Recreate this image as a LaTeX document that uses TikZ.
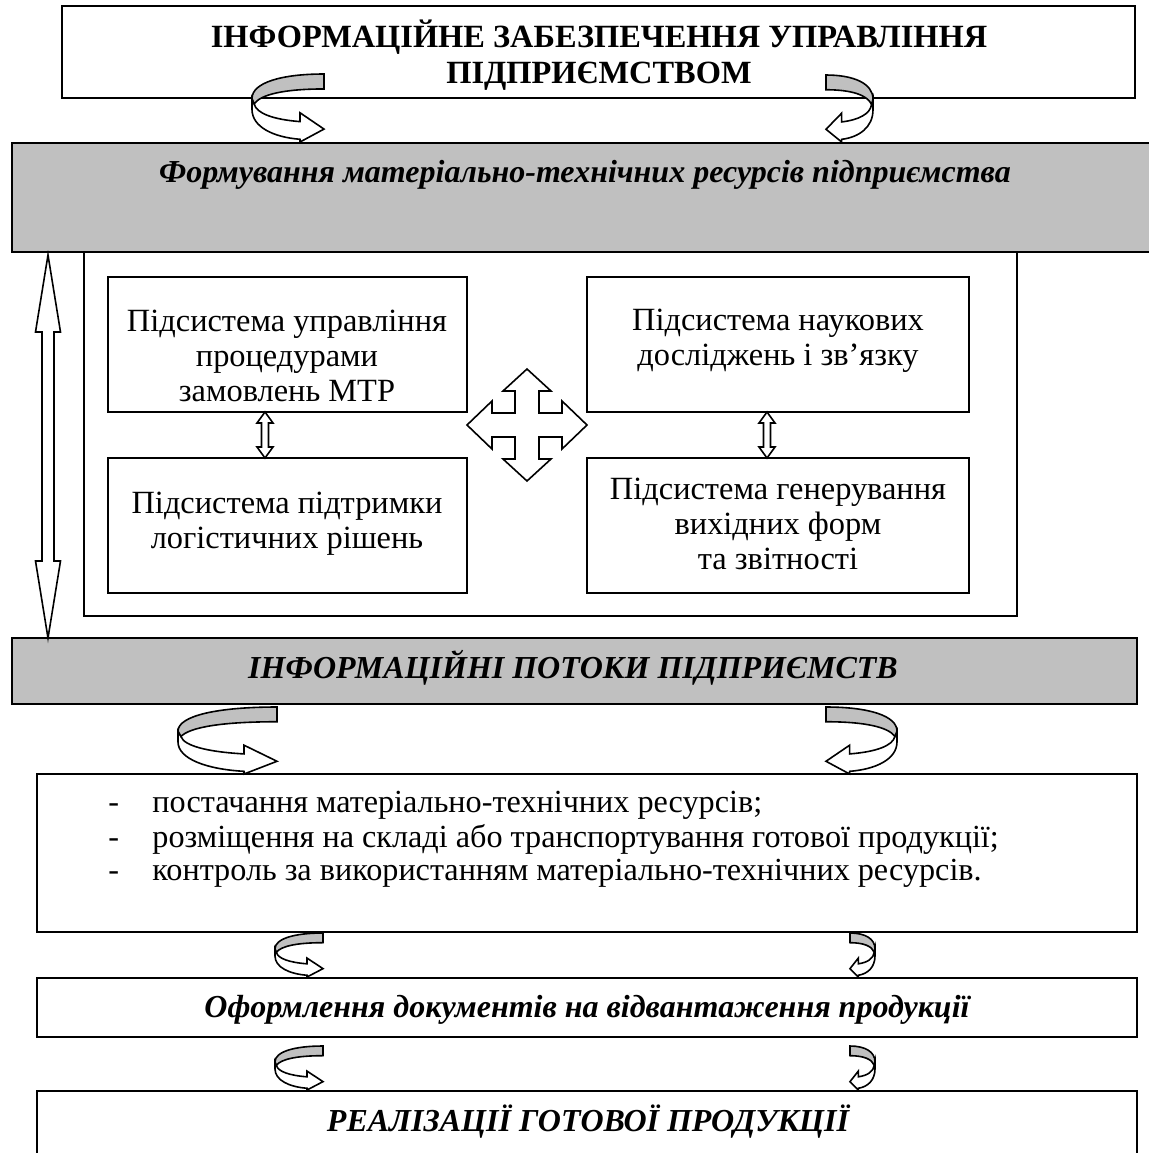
\documentclass[tikz,border=0pt]{standalone}
\usepackage{fontspec}
\setmainfont{Liberation Serif}
\usetikzlibrary{fit}
\definecolor{barg}{RGB}{192,192,192}
\newcommand\curvarr[4]{%
 \begin{scope}[shift={(#1,#2)},xscale=#3,yscale=#4]
  \filldraw[shapeline,fill=white] (0,0.36) -- (0,0.52) .. controls (0,0.78) and (0.3,0.93) .. (0.667,0.96) -- (0.667,1) -- (1,0.81) -- (0.667,0.57) -- (0.667,0.70) .. controls (0.3,0.67) and (0.06,0.58) .. (0.03,0.44) -- cycle;
  \filldraw[shapeline,fill=barg] (1,0) .. controls (0.4,0) and (0,0.13) .. (0,0.36) -- (0.03,0.44) .. controls (0.12,0.3) and (0.45,0.22) .. (1,0.22) -- cycle;
 \end{scope}}
\newcommand\vdarr[6]{%
 \filldraw[shapeline,fill=white] (#1,#2) -- (#1+#4,#2+#6) -- (#1+#5,#2+#6) -- (#1+#5,#3-#6) -- (#1+#4,#3-#6) -- (#1,#3) -- (#1-#4,#3-#6) -- (#1-#5,#3-#6) -- (#1-#5,#2+#6) -- (#1-#4,#2+#6) -- cycle;}
\begin{document}
\begin{tikzpicture}[x=0.5pt,y=-0.5pt,
  boxline/.style={draw=black, line width=1pt, inner sep=0pt},
  shapeline/.style={draw=black, line width=0.8pt, line join=miter},
  titletext/.style={font=\bfseries\fontsize{16.2}{17.8}\selectfont, align=center, inner sep=0pt},
  bartext/.style={font=\bfseries\itshape\fontsize{16}{17.5}\selectfont, inner sep=0pt},
  subtext/.style={font=\fontsize{16.2}{17.3}\selectfont, align=center, inner sep=0pt},
  listtext/.style={font=\fontsize{16.1}{17}\selectfont, inner sep=0pt, anchor=base west}]
\useasboundingbox (0,0) rectangle (1149,1153);
\clip (0,0) rectangle (1149,1153);
% boxes
\node[boxline, fit={(62,6)(1135,98)}] (top) {};
\node[boxline, fit={(84,246)(1017,616)}] (frame) {};
\node[boxline, fill=barg, fit={(12,143)(1160,252)}] (bar1) {};
\node[boxline, fit={(108,277)(467,412)}] (lu) {};
\node[boxline, fit={(108,458)(467,593)}] (ll) {};
\node[boxline, fit={(587,277)(969,412)}] (ru) {};
\node[boxline, fit={(587,458)(969,593)}] (rl) {};
\node[boxline, fill=barg, fit={(12,638)(1137,704)}] (bar2) {};
\node[boxline, fit={(37,774)(1137,932)}] (list) {};
\node[boxline, fit={(37,978)(1137,1037)}] (docs) {};
\node[boxline, fit={(37,1091)(1137,1180)}] (sale) {};
% texts
\node[titletext] (toptext) at (599,55) {ІНФОРМАЦІЙНЕ ЗАБЕЗПЕЧЕННЯ УПРАВЛІННЯ\\ПІДПРИЄМСТВОМ};
\node[bartext, anchor=base] (bar1text) at (585,182) {Формування матеріально-технічних ресурсів підприємства};
\node[subtext] (lutext) at (287,356) {Підсистема управління\\процедурами\\замовлень МТР};
\node[subtext] (rutext) at (778,341) {Підсистема наукових\\досліджень і зв’язку};
\node[subtext] (lltext) at (287,524) {Підсистема підтримки\\логістичних рішень};
\node[subtext] (rltext) at (778,524) {Підсистема генерування\\вихідних форм\\та звітності};
\node[bartext, anchor=base] (bar2text) at (573,678) {ІНФОРМАЦІЙНІ ПОТОКИ ПІДПРИЄМСТВ};
\node[listtext] (d1) at (108,812) {-};
\node[listtext] (l1) at (152,812) {постачання матеріально-технічних ресурсів;};
\node[listtext] (d2) at (108,847) {-};
\node[listtext] (l2) at (152,847) {розміщення на складі або транспортування готової продукції;};
\node[listtext] (d3) at (108,880) {-};
\node[listtext] (l3) at (152,880) {контроль за використанням матеріально-технічних ресурсів.};
\node[bartext, anchor=base] (docstext) at (587,1017) {Оформлення документів на відвантаження продукції};
\node[bartext, anchor=base] (saletext) at (588,1131) {РЕАЛІЗАЦІЇ ГОТОВОЇ ПРОДУКЦІЇ};
% double arrows
\vdarr{48}{255}{638}{12.5}{6}{77}
\vdarr{265}{412}{458}{8}{3.5}{11}
\vdarr{767}{412}{458}{8}{3.5}{11}
% four-way arrow
\begin{scope}[shift={(527,425)}]
\filldraw[shapeline,fill=white] (0,-56) -- (24,-34) -- (12,-34) -- (12,-12) -- (35,-12) -- (35,-24) -- (60,0) -- (35,24) -- (35,12) -- (12,12) -- (12,34) -- (24,34) -- (0,56) -- (-24,34) -- (-12,34) -- (-12,12) -- (-35,12) -- (-35,24) -- (-60,0) -- (-35,-24) -- (-35,-12) -- (-12,-12) -- (-12,-34) -- (-24,-34) -- cycle;
\end{scope}
% curved arrows
\curvarr{252}{74}{72}{68}
\curvarr{873}{75}{-47}{67}
\curvarr{178}{707}{99}{67}
\curvarr{897}{707}{-71}{67}
\curvarr{275}{933}{48}{44}
\curvarr{875}{933}{-25}{44}
\curvarr{275}{1046}{48}{44}
\curvarr{875}{1046}{-25}{44}
\end{tikzpicture}
\end{document}
